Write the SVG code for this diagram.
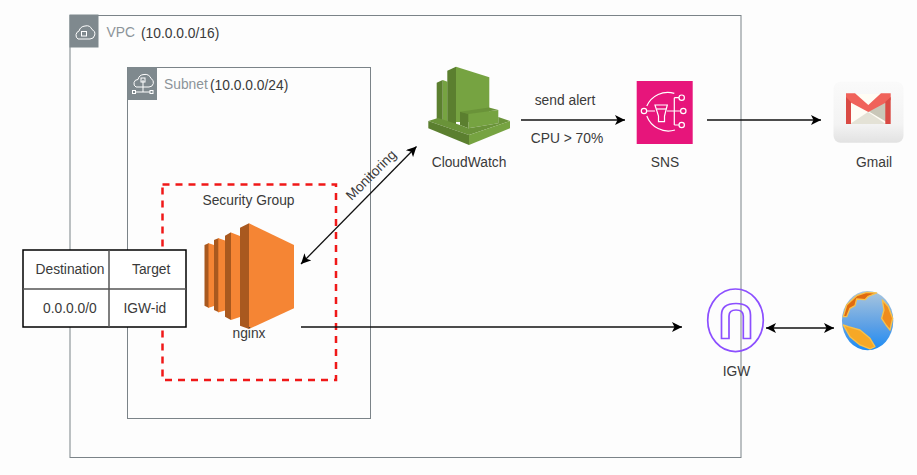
<svg xmlns="http://www.w3.org/2000/svg" width="917" height="475" viewBox="0 0 917 475">
<defs>
<marker id="arr" markerUnits="userSpaceOnUse" markerWidth="12" markerHeight="10" refX="10" refY="5" orient="auto-start-reverse"><path d="M0 0L10 5L0 10L2.500 5Z" fill="#000"/></marker>
<linearGradient id="sea" x1="0" y1="0" x2="0" y2="1"><stop offset="0" stop-color="#a9c6de"/><stop offset="0.6" stop-color="#5a9fe6"/><stop offset="1" stop-color="#1c8cf5"/></linearGradient>
<linearGradient id="tile" x1="0" y1="0" x2="0" y2="1"><stop offset="0" stop-color="#fafafa"/><stop offset="0.7" stop-color="#f3f3f3"/><stop offset="1" stop-color="#e2e2e2"/></linearGradient>
</defs>
<style>
text{font-family:"Liberation Sans",Arial,sans-serif;font-size:13.8px;fill:#3a3a3a}
.g{fill:#8c9499}
.box{fill:none;stroke:#7b8388;stroke-width:1}
.tag{fill:#7f898e}
.ic{fill:none;stroke:#fff;stroke-width:1}
.con{fill:none;stroke:#111;stroke-width:1.300}
.sns{fill:none;stroke:#fff;stroke-width:1.200}
.igw{fill:none;stroke:#8c4fff;stroke-width:1.700}
.tb{fill:#fff;stroke:#000;stroke-width:1.500}
.tl{fill:none;stroke:#555;stroke-width:1.500}
.ol{fill:#f58534}
.od{fill:#a9591f}
.gl{fill:#76a341}
.gd{fill:#5b7f2f}
.gm{fill:#6a9339}
.land{stroke:#f7c14c;stroke-width:4;stroke-linejoin:round}
</style>
<rect width="917" height="475" fill="#fdfdfd"/>
<g id="vpc">
<rect class="box" x="70" y="15.500" width="671" height="442"/>
<rect class="tag" x="69.500" y="14.500" width="29" height="33"/>
<path class="ic" d="M78 39h12a5 5 0 0 0 2-9.500a6 6 0 0 0-7-3.500a7 7 0 0 0-6 5a4.500 4.500 0 0 0-1 8z"/>
<rect class="ic" x="81.500" y="31.500" width="5" height="4.500"/>
<text class="g" x="106.500" y="37">VPC</text><text x="141" y="38">(10.0.0.0/16)</text>
</g>
<g id="subnet">
<rect class="box" x="127.500" y="67.500" width="243" height="351"/>
<rect class="tag" x="127.500" y="67" width="29.500" height="33"/>
<path class="ic" d="M136 87h13a4.500 4.500 0 0 0 2-8.500a6 6 0 0 0-7-4a6.500 6.500 0 0 0-6 5a4 4 0 0 0-2 7.500z"/>
<path class="ic" d="M143 80v12M136 92h14"/><rect class="ic" x="141" y="78" width="4" height="4"/><rect class="ic" x="132.500" y="90.500" width="3" height="3"/><rect class="ic" x="150" y="90.500" width="3" height="3"/>
<text class="g" x="164" y="89">Subnet</text><text x="210" y="90">(10.0.0.0/24)</text>
</g>
<g id="security-group">
<rect x="162.500" y="184.500" width="173.500" height="195.500" fill="none" stroke="#f01818" stroke-width="2.500" stroke-dasharray="7 6"/>
<text x="248.500" y="205" text-anchor="middle">Security Group</text>
</g>
<g id="connectors">
<path class="con" d="M301 264L416.500 146.500" marker-start="url(#arr)" marker-end="url(#arr)"/>
<path class="con" d="M521 120H625" marker-end="url(#arr)"/>
<path class="con" d="M707 120H821" marker-end="url(#arr)"/>
<path class="con" d="M301 327H682" marker-end="url(#arr)"/>
<path class="con" d="M766 328H834" marker-start="url(#arr)" marker-end="url(#arr)"/>
</g>
<text transform="translate(371.500 175.500) rotate(-45)" text-anchor="middle" y="4">Monitoring</text>
<g id="route-table">
<rect class="tb" x="23" y="250" width="163" height="77"/>
<path class="tl" d="M109 250V327M23 289H186"/>
<text x="35.500" y="273.500">Destination</text><text x="132" y="273.500">Target</text>
<text x="43" y="312.500">0.0.0.0/0</text><text x="123.500" y="312.500">IGW-id</text>
</g>
<g id="nginx">
<path class="ol" d="M208 243L214 245V306L208 308Z"/>
<path class="od" d="M204.500 245L208.500 243.300V307.700L204.500 305.700Z"/>
<path class="ol" d="M218 238L225 240.500V310.500L218 312.500Z"/>
<path class="od" d="M214 240L218.300 238.300V312L214 310Z"/>
<path class="ol" d="M231 232.500L240 236V317L231 320Z"/>
<path class="od" d="M225 235.700L231 232.300V320L225 316.700Z"/>
<path class="ol" d="M249 223.300L294 245V308.300L249 329Z"/>
<path class="od" d="M240 227.700L249 223.300V329L240 325.700Z"/>
<text x="249" y="338" text-anchor="middle">nginx</text>
</g>
<g id="cloudwatch">
<path class="gl" d="M442.700 80L447.500 81.700V122H442.700Z"/>
<path class="gd" d="M436.700 82.700L442.700 80V122H436.700Z"/>
<path class="gl" d="M456 66.700L489.300 77.300V122H456Z"/>
<path class="gd" d="M447.300 70.700L456 66.700V126H447.300Z"/>
<path class="gl" d="M468.300 114L498.300 110V123.300L468.300 128.300Z"/>
<path class="gm" d="M460 111.700L489 107.500L498.300 110L468.300 114Z"/>
<path class="gd" d="M460 111.700L468.300 114V128.300L460 125Z"/>
<path class="gm" d="M428.300 121L438 118L460 125L468.300 128.300L498.300 123.300V117L510 121L469 135Z"/>
<path class="gd" d="M428.300 121L469 135V145L428.300 128.300Z"/>
<path class="gl" d="M510 121L469 135V145L510 128.300Z"/>
<text x="469" y="166.500" text-anchor="middle">CloudWatch</text>
</g>
<g id="labels">
<text x="565" y="104.500" text-anchor="middle">send alert</text>
<text x="567" y="143" text-anchor="middle">CPU &gt; 70%</text>
</g>
<g id="sns">
<rect x="636.700" y="81" width="56" height="63" fill="#e7157b"/>
<path class="sns" d="M674.300 93.300A23 23 0 0 0 646.800 106M646.800 116A23 23 0 0 0 675 130M646.700 111H655M667 111H680.600M674.300 97.700V125M674.300 97.700H679M674.300 125H679"/>
<circle class="sns" cx="644" cy="111" r="2.700"/><circle class="sns" cx="681.700" cy="97.700" r="2.700"/><circle class="sns" cx="683.300" cy="111" r="2.700"/><circle class="sns" cx="681.700" cy="125" r="2.700"/>
<path class="sns" d="M655 105H667.300L664.500 116V121.700H658.500V116Z"/><path class="sns" d="M656.500 109H666"/>
<text x="665" y="166.500" text-anchor="middle">SNS</text>
</g>
<g id="gmail">
<rect x="833.500" y="81.700" width="70" height="61" rx="7" fill="url(#tile)"/>
<path fill="#fffdf5" d="M846 94H890V124H846Z"/>
<path fill="#c9c7b8" d="M868 111L890 98V124Z"/>
<path fill="#e4e2d6" d="M850 124L868 112L886 124Z"/>
<path fill="#f0625a" d="M846 93.300H855L868.300 105L881 93.300H890.700V100L868.300 112L846 100Z"/>
<path fill="#d94a44" d="M846 97L851 102V124H846ZM890.700 97L885.300 102V124H890.700Z"/>
<text x="874" y="166.500" text-anchor="middle">Gmail</text>
</g>
<g id="igw">
<ellipse class="igw" cx="735.500" cy="320.300" rx="27.800" ry="31.300"/>
<path class="igw" d="M721.500 338.500V315Q721.500 303.500 736 303.500Q750.500 303.500 750.500 315V338.500H743.300V316Q743.300 310 736 310Q729 310 729 316V338.500Z"/>
<text x="736.500" y="376" text-anchor="middle">IGW</text>
</g>
<g id="internet" transform="translate(680 275) scale(.3333)">
<ellipse cx="563" cy="137" rx="77" ry="89" fill="url(#sea)"/>
<path class="land" fill="#e06a10" d="M490 125L500 90L530 62L560 52L590 54L565 64L555 74L530 72L525 92L510 100L500 125Z"/>
<path class="land" fill="#ef8c1e" d="M607 75L625 95L638 130L630 165L618 150L605 130L612 105Z"/>
<path class="land" fill="#f6a826" d="M490 150L505 155L540 165L570 190L585 215L570 222L540 210L510 185Z"/>
</g>
</svg>
